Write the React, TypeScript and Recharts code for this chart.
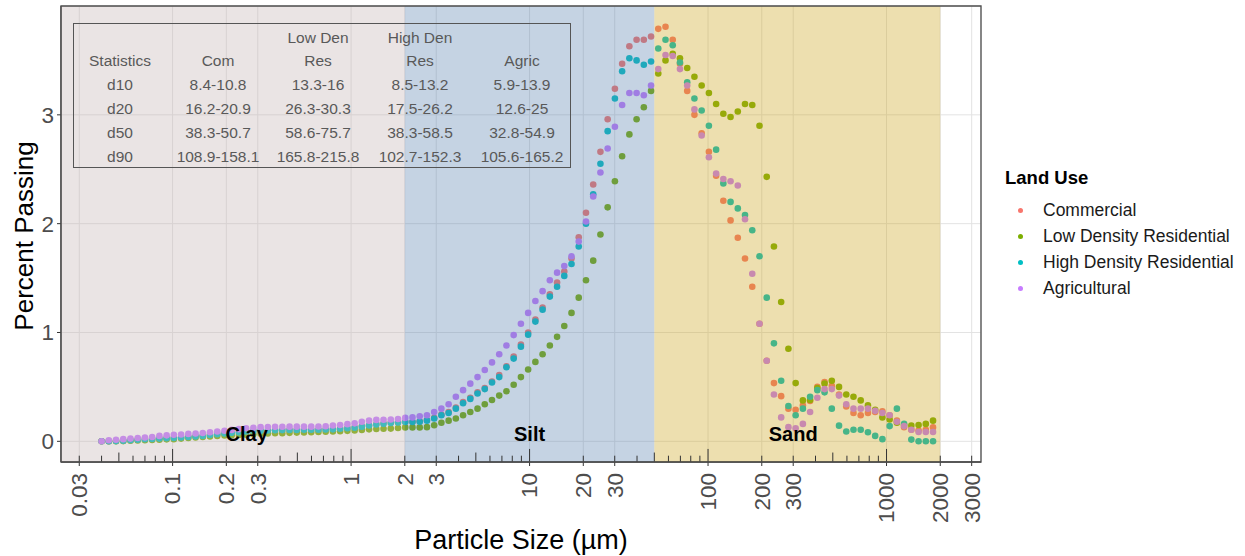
import React from 'react';
import {
  ScatterChart, Scatter, XAxis, YAxis, CartesianGrid, ReferenceArea, ReferenceLine, ReferenceDot,
} from 'recharts';

// particle size bins (µm)
const sizes = [
  0.04, 0.04391, 0.0482, 0.05291, 0.05808, 0.06376, 0.06999, 0.07683, 0.08434, 0.09259,
  0.1016, 0.1116, 0.1225, 0.1345, 0.1476, 0.162, 0.1779, 0.1953, 0.2144, 0.2353,
  0.2583, 0.2836, 0.3113, 0.3417, 0.3751, 0.4118, 0.452, 0.4962, 0.5447, 0.598,
  0.6564, 0.7206, 0.791, 0.8683, 0.9535, 1.047, 1.149, 1.261, 1.385, 1.52,
  1.669, 1.832, 2.011, 2.208, 2.424, 2.661, 2.921, 3.206, 3.52, 3.864,
  4.241, 4.656, 5.111, 5.611, 6.159, 6.761, 7.422, 8.148, 8.944, 9.818,
  10.78, 11.83, 12.99, 14.26, 15.65, 17.18, 18.86, 20.71, 22.73, 24.95,
  27.39, 30.07, 33.01, 36.24, 39.78, 43.67, 47.94, 52.62, 57.77, 63.41,
  69.61, 76.42, 83.89, 92.09, 101.1, 111, 121.8, 133.7, 146.8, 161.1,
  176.9, 194.2, 213.2, 234, 256.9, 282, 309.6, 339.9, 373.1, 409.6,
  449.6, 493.6, 541.8, 594.8, 652.9, 716.7, 786.8, 863.7, 948.2, 1041,
  1143, 1254, 1377, 1512, 1660, 1822,
];

const commercial = [
  0, 0, 0.003, 0.006, 0.011, 0.016, 0.021, 0.024, 0.027, 0.03,
  0.032, 0.037, 0.042, 0.047, 0.053, 0.06, 0.067, 0.074, 0.08, 0.086,
  0.092, 0.097, 0.1, 0.102, 0.104, 0.105, 0.106, 0.107, 0.108, 0.108,
  0.109, 0.11, 0.112, 0.117, 0.122, 0.128, 0.138, 0.148, 0.158, 0.165,
  0.171, 0.176, 0.18, 0.18, 0.185, 0.195, 0.215, 0.245, 0.27, 0.31,
  0.36, 0.4, 0.45, 0.49, 0.55, 0.61, 0.69, 0.78, 0.89, 1,
  1.12, 1.23, 1.35, 1.46, 1.56, 1.68, 1.875, 2.1, 2.36, 2.66,
  2.96, 3.24, 3.47, 3.63, 3.69, 3.69, 3.72, 3.79, 3.81, 3.69,
  3.47, 3.22, 3, 2.83, 2.66, 2.44, 2.21, 2.03, 1.87, 1.68,
  1.42, 1.08, 0.74, 0.535, 0.415, 0.3, 0.29, 0.33, 0.37, 0.5,
  0.545, 0.51, 0.43, 0.32, 0.26, 0.24, 0.26, 0.27, 0.275, 0.24,
  0.19, 0.13, 0.107, 0.1, 0.107, 0.128,
];

const lowDensity = [
  0, 0, 0, 0.002, 0.005, 0.008, 0.01, 0.012, 0.015, 0.018,
  0.02, 0.025, 0.03, 0.035, 0.04, 0.045, 0.05, 0.053, 0.056, 0.058,
  0.06, 0.065, 0.07, 0.072, 0.074, 0.075, 0.078, 0.08, 0.082, 0.084,
  0.086, 0.088, 0.09, 0.093, 0.096, 0.1, 0.105, 0.11, 0.113, 0.115,
  0.117, 0.122, 0.128, 0.128, 0.128, 0.13, 0.147, 0.17, 0.19, 0.21,
  0.24, 0.27, 0.3, 0.34, 0.38, 0.42, 0.46, 0.52, 0.59, 0.66,
  0.73, 0.8, 0.88, 0.96, 1.06, 1.18, 1.32, 1.48, 1.66, 1.9,
  2.15, 2.39, 2.62, 2.82, 2.96, 3.07, 3.22, 3.38, 3.5, 3.56,
  3.52, 3.43, 3.35, 3.27, 3.2, 3.1, 3.01, 2.98, 3.03, 3.1,
  3.09, 2.9, 2.43, 1.79, 1.28, 0.85, 0.535, 0.376, 0.38, 0.49,
  0.53, 0.557, 0.5, 0.43, 0.41, 0.376, 0.33, 0.29, 0.22, 0.2,
  0.17, 0.15, 0.144, 0.15, 0.16, 0.19,
];

const highDensity = [
  0, 0, 0.002, 0.005, 0.01, 0.015, 0.02, 0.022, 0.025, 0.028,
  0.03, 0.035, 0.04, 0.045, 0.05, 0.058, 0.065, 0.072, 0.078, 0.084,
  0.09, 0.095, 0.098, 0.1, 0.102, 0.103, 0.104, 0.105, 0.106, 0.106,
  0.107, 0.108, 0.11, 0.115, 0.12, 0.125, 0.135, 0.145, 0.155, 0.162,
  0.168, 0.173, 0.178, 0.178, 0.18, 0.19, 0.21, 0.24, 0.26, 0.3,
  0.35, 0.39, 0.44, 0.48, 0.54, 0.59, 0.68, 0.76, 0.87, 0.98,
  1.1, 1.21, 1.33, 1.42, 1.52, 1.63, 1.79, 2, 2.27, 2.55,
  2.85, 3.15, 3.4, 3.52, 3.5, 3.46, 3.49, 3.61, 3.69, 3.64,
  3.48, 3.3, 3.15, 3.04, 2.9, 2.68, 2.37, 2.2, 2.14, 2.08,
  1.94, 1.7, 1.32, 0.9, 0.557, 0.325, 0.24, 0.3, 0.41, 0.47,
  0.45, 0.3, 0.144, 0.09, 0.107, 0.107, 0.083, 0.05, 0.02, 0.14,
  0.3, 0.16, 0.016, 0, 0, 0,
];

const agricultural = [
  0, 0.01, 0.015, 0.02, 0.025, 0.03, 0.035, 0.04, 0.05, 0.055,
  0.06, 0.063, 0.068, 0.072, 0.076, 0.083, 0.09, 0.097, 0.105, 0.112,
  0.12, 0.125, 0.13, 0.132, 0.133, 0.134, 0.135, 0.135, 0.135, 0.135,
  0.136, 0.138, 0.145, 0.15, 0.158, 0.165, 0.18, 0.19, 0.197, 0.198,
  0.2, 0.205, 0.215, 0.22, 0.23, 0.24, 0.27, 0.3, 0.34, 0.41,
  0.47, 0.53, 0.59, 0.655, 0.725, 0.8, 0.88, 0.976, 1.08, 1.18,
  1.29, 1.38, 1.48, 1.55, 1.61, 1.7, 1.835, 2.02, 2.25, 2.47,
  2.69, 2.89, 3.09, 3.2, 3.2, 3.18, 3.27, 3.42, 3.55, 3.54,
  3.42, 3.27, 3.05, 2.81, 2.61, 2.46, 2.41, 2.39, 2.35, 2.04,
  1.54, 1.08, 0.74, 0.43, 0.22, 0.13, 0.12, 0.16, 0.27, 0.4,
  0.48, 0.48, 0.42, 0.34, 0.3, 0.3, 0.3, 0.28, 0.26, 0.24,
  0.18, 0.14, 0.107, 0.085, 0.085, 0.085,
];

const seriesNames = ['Commercial', 'Low Density Residential', 'High Density Residential', 'Agricultural'];
const seriesColors = ['#F8766D', '#7CAE00', '#00BFC4', '#C77CFF'];
const seriesValues = [commercial, lowDensity, highDensity, agricultural];

const xTicks = [0.03, 0.1, 0.2, 0.3, 1, 2, 3, 10, 20, 30, 100, 200, 300, 1000, 2000, 3000];
const yTicks = [0, 1, 2, 3];

const tableHeader1 = ['', '', 'Low Den', 'High Den', ''];
const tableHeader2 = ['Statistics', 'Com', 'Res', 'Res', 'Agric'];
const tableRows = [
  ['d10', '8.4-10.8', '13.3-16', '8.5-13.2', '5.9-13.9'],
  ['d20', '16.2-20.9', '26.3-30.3', '17.5-26.2', '12.6-25'],
  ['d50', '38.3-50.7', '58.6-75.7', '38.3-58.5', '32.8-54.9'],
  ['d90', '108.9-158.1', '165.8-215.8', '102.7-152.3', '105.6-165.2'],
];

const X_MIN = 0.0237;
const X_MAX = 3383;
const Y_MIN = -0.19;
const Y_MAX = 4.0;

// annotation_logticks style marks along the bottom
const logTicks: { v: number; len: number }[] = [];
[0.01, 0.1, 1, 10, 100, 1000].forEach((d) => {
  for (let m = 1; m <= 9; m++) {
    const v = d * m;
    if (v < X_MIN || v > X_MAX) continue;
    const len = m === 1 ? 0.12 : m === 5 ? 0.087 : 0.058;
    logTicks.push({ v: Number(v.toPrecision(3)), len });
  }
});

const FONT = "'Liberation Sans', Arial, sans-serif";

const XTick = (props: any) => {
  const { x, y, payload } = props;
  return (
    <g transform={`translate(${x},${y})`}>
      <text transform="rotate(-90)" x={-5} y={0} dy="0.35em" textAnchor="end"
        fontSize={22.5} fill="#4D4D4D" fontFamily={FONT}>
        {payload.value}
      </text>
    </g>
  );
};

const dot = (color: string) => (props: any) => (
  <circle cx={props.cx} cy={props.cy} r={3.3} fill={color} />
);

const colCenters = [120, 218, 318, 420, 522];

const TableCell = ({ text, cx, cy }: { text: string; cx: number; cy: number }) => (
  <div style={{
    position: 'absolute', left: cx - 70, top: cy - 10, width: 140, height: 20,
    lineHeight: '20px', textAlign: 'center', whiteSpace: 'nowrap',
  }}>{text}</div>
);

// soil texture bands drawn over the points (like a translucent geom_rect)
const bands = [
  { x1: X_MIN, x2: 2, fill: '#C3B2B2' },
  { x1: 2, x2: 50, fill: '#5981AF' },
  { x1: 50, x2: 2000, fill: '#CCA41A' },
];

const App: React.FC = () => {
  return (
    <div style={{
      position: 'absolute', left: 0, top: 0, width: 1245, height: 556,
      background: '#fff', fontFamily: FONT, overflow: 'hidden',
    }}>
      <ScatterChart width={1245} height={556} margin={{ top: 6, right: 264, bottom: 34, left: 21 }}>
        <CartesianGrid stroke="#E3E3E3" strokeWidth={1} />
        <XAxis
          dataKey="x"
          type="number"
          scale="log"
          domain={[X_MIN, X_MAX]}
          allowDataOverflow
          ticks={xTicks}
          interval={0}
          height={60}
          tick={<XTick />}
          tickSize={4}
          tickLine={{ stroke: '#333' }}
          axisLine={{ stroke: '#4D4D4D', strokeWidth: 1.3 }}
        />
        <YAxis
          dataKey="y"
          type="number"
          domain={[Y_MIN, Y_MAX]}
          allowDataOverflow
          ticks={yTicks}
          width={40}
          tickSize={4}
          tickMargin={3}
          tickLine={{ stroke: '#333' }}
          axisLine={{ stroke: '#4D4D4D', strokeWidth: 1.3 }}
          tick={{ fontSize: 22.5, fill: '#4D4D4D', fontFamily: FONT }}
        />
        {seriesValues.map((vals, s) => (
          <Scatter
            key={seriesNames[s]}
            name={seriesNames[s]}
            data={sizes.map((x, i) => ({ x, y: vals[i] }))}
            shape={dot(seriesColors[s])}
            isAnimationActive={false}
          />
        ))}
        {bands.map((b) => (
          <ReferenceArea
            key={b.fill}
            x1={b.x1} x2={b.x2} y1={Y_MIN} y2={Y_MAX}
            fill={b.fill} fillOpacity={0.35} stroke="none" ifOverflow="hidden"
            {...({ zIndex: 700 } as any)}
          />
        ))}
        {logTicks.map((t) => (
          <ReferenceLine
            key={`lt${t.v}`}
            segment={[{ x: t.v, y: Y_MIN }, { x: t.v, y: Y_MIN + t.len }]}
            stroke="#333"
            strokeWidth={1}
            ifOverflow="visible"
            {...({ zIndex: 750 } as any)}
          />
        ))}
        <ReferenceDot x={0.26} y={0.07} r={0} fill="none" stroke="none"
          label={{ value: 'Clay', position: 'center', fontSize: 20, fontWeight: 'bold', fill: '#000', fontFamily: FONT }} />
        <ReferenceDot x={10} y={0.07} r={0} fill="none" stroke="none"
          label={{ value: 'Silt', position: 'center', fontSize: 20, fontWeight: 'bold', fill: '#000', fontFamily: FONT }} />
        <ReferenceDot x={300} y={0.07} r={0} fill="none" stroke="none"
          label={{ value: 'Sand', position: 'center', fontSize: 20, fontWeight: 'bold', fill: '#000', fontFamily: FONT }} />
        <ReferenceArea x1={X_MIN} x2={X_MAX} y1={Y_MIN} y2={Y_MAX} fill="none" stroke="#4D4D4D" strokeWidth={1.3}
          ifOverflow="visible" {...({ zIndex: 800 } as any)} />
      </ScatterChart>

      {/* statistics table */}
      <div style={{
        position: 'absolute', left: 73, top: 23, width: 498, height: 145,
        border: '1.5px solid #555', boxSizing: 'border-box',
      }} />
      <div style={{ position: 'absolute', left: 0, top: 0, fontSize: 15.5, color: '#595959' }}>
        {tableHeader1.map((t, i) => t && <TableCell key={`h1${i}`} text={t} cx={colCenters[i]} cy={38} />)}
        {tableHeader2.map((t, i) => <TableCell key={`h2${i}`} text={t} cx={colCenters[i]} cy={61} />)}
        {tableRows.map((row, r) => row.map((t, i) => (
          <TableCell key={`r${r}${i}`} text={t} cx={colCenters[i]} cy={85 + r * 24} />
        )))}
      </div>

      {/* axis titles */}
      <div style={{
        position: 'absolute', left: 521, top: 540, transform: 'translate(-50%, -50%)',
        fontSize: 27, color: '#000', whiteSpace: 'nowrap',
      }}>Particle Size (µm)</div>
      <div style={{
        position: 'absolute', left: 24, top: 236, transform: 'translate(-50%, -50%) rotate(-90deg)',
        fontSize: 26, color: '#000', whiteSpace: 'nowrap',
      }}>Percent Passing</div>

      {/* legend */}
      <div style={{ position: 'absolute', left: 1005, top: 166 }}>
        <div style={{ fontWeight: 'bold', fontSize: 18.5, lineHeight: '24px', color: '#000' }}>Land Use</div>
        <div style={{ marginTop: 7 }}>
          {seriesNames.map((n, i) => (
            <div key={n} style={{ position: 'relative', height: 26, lineHeight: '26px', fontSize: 17.5, color: '#1A1A1A' }}>
              <span style={{
                position: 'absolute', left: 13, top: 10.5, width: 5, height: 5,
                borderRadius: '50%', background: seriesColors[i],
              }} />
              <span style={{ position: 'absolute', left: 38, whiteSpace: 'nowrap' }}>{n}</span>
            </div>
          ))}
        </div>
      </div>
    </div>
  );
};

export default App;
